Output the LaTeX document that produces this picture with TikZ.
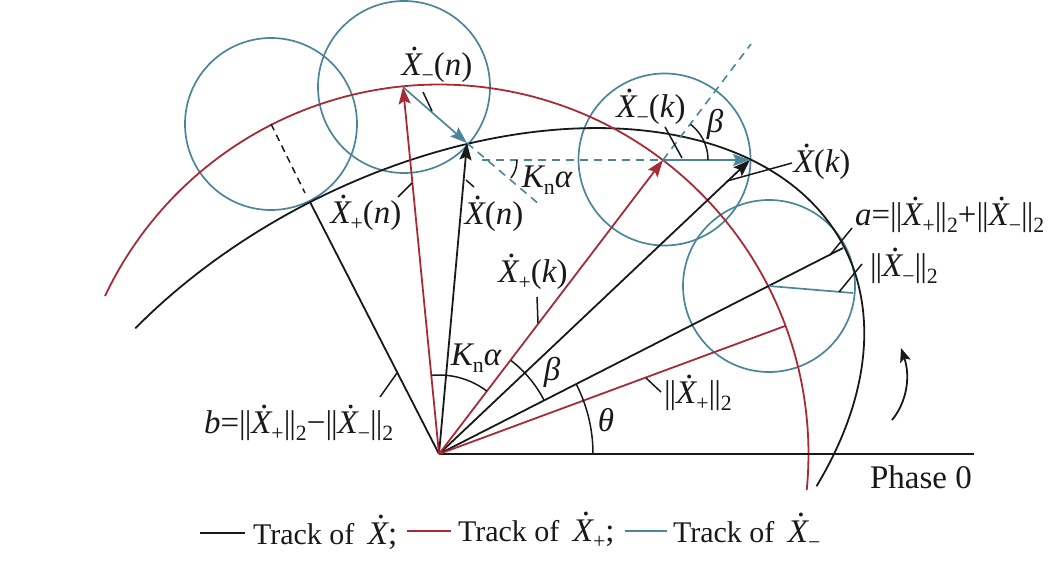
\documentclass[tikz,border=0pt]{standalone}
\usepackage{fontspec}
\usepackage{graphicx}
\setmainfont{Liberation Serif}
\usetikzlibrary{arrows.meta}
\definecolor{myred}{HTML}{A62B36}
\definecolor{myteal}{HTML}{4A8599}
\newcommand\Xd{\makebox[0pt][l]{\hspace{0.27em}\raisebox{0.76em}{.}}{\itshape X}}
\newcommand\lsub[1]{\raisebox{-0.22em}{\scalebox{0.66}{#1}}}
\newcommand\nrm{|\kern-0.03em|}
\newcommand\iv[1]{{\itshape #1}}
\newcommand\bigf{\fontsize{33}{35}\selectfont}
\tikzset{
  blk/.style={draw=black!90,line width=1.8pt},
  redl/.style={draw=myred,line width=1.8pt},
  tealine/.style={draw=myteal,line width=1.7pt},
  tealdash/.style={draw=myteal,line width=1.6pt,dash pattern=on 8pt off 6pt},
  thin leader/.style={draw=black!90,line width=1.5pt},
  headb/.style={-{Stealth[length=17pt,width=12pt,inset=3pt,fill=black!90]}},
  headr/.style={-{Stealth[length=17pt,width=12pt,inset=3pt,fill=myred]}},
  headt/.style={-{Stealth[length=17pt,width=12pt,inset=3pt,fill=myteal]}},
  lab/.style={inner sep=0pt,outer sep=0pt,font=\bigf,text=black!90},
  leg/.style={inner sep=0pt,outer sep=0pt,font=\fontsize{30}{32}\selectfont,text=black!90},
}
\begin{document}
\begin{tikzpicture}[x=1pt,y=-1pt]
\useasboundingbox (0,0) rectangle (1049,561);
% named points
\coordinate (O) at (439,454);
\coordinate (C1) at (271,124);
\coordinate (C2) at (403,87);
\coordinate (C3) at (663,160);
\coordinate (C4) at (769,286);
\coordinate (Pn) at (467,143);
\coordinate (Pk) at (750,160);
\coordinate (Ae) at (843,248);
\coordinate (Be) at (310,202);
\coordinate (Re) at (785,326);
\coordinate (Te) at (853,293);
\coordinate (Axe) at (974,454);
% circles
\node[circle,tealine,minimum size=172pt,inner sep=0pt] (c1) at (C1) {};
\node[circle,tealine,minimum size=172pt,inner sep=0pt] (c2) at (404,87) {};
\node[circle,tealine,minimum size=172pt,inner sep=0pt] (c3) at (664.5,159.5) {};
\node[circle,tealine,minimum size=172pt,inner sep=0pt] (c4) at (C4) {};
% tracks
\draw[blk] plot[domain=-45:118,samples=120] ({439+455*cos(\x)*0.891-283*sin(\x)*0.454},{454-455*cos(\x)*0.454-283*sin(\x)*0.891});
\draw[redl] plot[domain=-5.6:154.7,samples=120] ({439+369.5*cos(\x)},{454-369.5*sin(\x)});
% axis and black rays
\draw[blk] (O) -- (Axe);
\draw[blk] (O) -- (Be);
\draw[thin leader,dash pattern=on 7pt off 5pt] (C1) -- (305,193);
\draw[blk] (O) -- (Ae);
\draw[tealine] (C4) -- (Te);
\draw[blk,headb] (O) -- (Pn);
\draw[blk,headb] (O) -- (Pk);
% red rays
\draw[redl] (O) -- (Re);
\draw[redl,headr] (O) -- (C2);
\draw[redl,headr] (O) -- (C3);
% teal arrows and dashes
\draw[tealine,headt] (C2) -- (Pn);
\draw[tealine,headt] (C3) -- (Pk);
\coordinate (D1) at (540,205);
\coordinate (D2) at (482,160);
\coordinate (D3) at (751,44);
\draw[tealdash] (Pn) -- (D1);
\draw[tealdash] (D2) -- (C3);
\draw[tealdash] (C3) -- (D3);
% angle arcs
\draw[thin leader] plot[domain=52.8:95.6,samples=30] ({439+79*cos(\x)},{454-79*sin(\x)});
\draw[thin leader] plot[domain=27:52.4,samples=30] ({439+118*cos(\x)},{454-118*sin(\x)});
\draw[thin leader] plot[domain=0:27,samples=30] ({439+154*cos(\x)},{454-154*sin(\x)});
\draw[thin leader] plot[domain=0:52,samples=30] ({663+45*cos(\x)},{160-45*sin(\x)});
\draw[thin leader] (517,160) .. controls (517,167) and (515,173) .. (511,178);
% rotation arrow
\coordinate (R1) at (892,420);
\coordinate (R2) at (901,348);
\draw[thin leader,line width=1.8pt,-{Stealth[length=14pt,width=11pt,inset=3pt,fill=black!90]}] (R1) .. controls (906,403) and (911,378) .. (R2);
% labels
\node[lab] (lXmn) at (437,65) {\Xd\lsub{−}(\iv{n})};
\node[lab] (lXpn) at (366,213) {\Xd\lsub{+}(\iv{n})};
\node[lab] (lXn) at (494,214) {\Xd(\iv{n})};
\node[lab] (lKa) at (547,180) {\iv{K}\lsub{n}\iv{α}};
\node[lab] (lXmk) at (651,107) {\Xd\lsub{−}(\iv{k})};
\node[lab] (lXk) at (822,162) {\Xd(\iv{k})};
\node[lab] (lbt) at (715,124) {\iv{β}};
\node[lab,anchor=west] (la) at (855,215) {\iv{a}=\nrm\Xd\lsub{+}\nrm\lsub{2}+\nrm\Xd\lsub{−}\nrm\lsub{2}};
\node[lab,anchor=west] (lnm) at (870,266) {\nrm\Xd\lsub{−}\nrm\lsub{2}};
\node[lab,anchor=west] (lnp) at (664,393) {\nrm\Xd\lsub{+}\nrm\lsub{2}};
\node[lab] (lXpk) at (533,272) {\Xd\lsub{+}(\iv{k})};
\node[lab] (lKa2) at (476,358) {\iv{K}\lsub{n}\iv{α}};
\node[lab] (lbt2) at (552,372) {\iv{β}};
\node[lab] (lth) at (606,420) {\iv{θ}};
\node[lab,anchor=west] (lb) at (204,423) {\iv{b}=\nrm\Xd\lsub{+}\nrm\lsub{2}−\nrm\Xd\lsub{−}\nrm\lsub{2}};
\node[lab] (lph) at (921,477) {Phase 0};
% leaders
\coordinate (L1a) at (423,92); \coordinate (L1b) at (432,111);
\coordinate (L2a) at (398,197); \coordinate (L2b) at (412,183);
\coordinate (L3a) at (466,180); \coordinate (L3b) at (474,187);
\coordinate (L4a) at (665,127); \coordinate (L4b) at (682,158);
\coordinate (L5a) at (727,181); \coordinate (L5b) at (792,163);
\coordinate (L6a) at (830,255); \coordinate (L6b) at (852,228);
\coordinate (L7a) at (839,292); \coordinate (L7b) at (862,264);
\coordinate (L8a) at (646,378); \coordinate (L8b) at (661,392);
\coordinate (L9a) at (538,323); \coordinate (L9b) at (537,297);
\coordinate (L10a) at (397,373); \coordinate (L10b) at (380,397);
\draw[thin leader] (L1a) -- (L1b);
\draw[thin leader] (L2a) -- (L2b);
\draw[thin leader] (L3a) -- (L3b);
\draw[thin leader] (L4a) -- (L4b);
\draw[thin leader] (L5a) -- (L5b);
\draw[thin leader] (L6a) -- (L6b);
\draw[thin leader] (L7a) -- (L7b);
\draw[thin leader] (L8a) -- (L8b);
\draw[thin leader] (L9a) -- (L9b);
\draw[thin leader] (L10a) -- (L10b);
% legend
\coordinate (K1a) at (200,533); \coordinate (K1b) at (245,533);
\coordinate (K2a) at (407,531); \coordinate (K2b) at (451,531);
\coordinate (K3a) at (625,531); \coordinate (K3b) at (667,531);
\draw[blk] (K1a) -- (K1b);
\draw[redl] (K2a) -- (K2b);
\draw[tealine] (K3a) -- (K3b);
\node[leg,anchor=base west] (t1) at (253,544) {Track of\hspace{0.45em}{\bigf\Xd;}};
\node[leg,anchor=base west] (t2) at (458,541) {Track of\hspace{0.45em}{\bigf\Xd\lsub{+};}};
\node[leg,anchor=base west] (t3) at (673,542) {Track of\hspace{0.45em}{\bigf\Xd\lsub{−}}};
\end{tikzpicture}
\end{document}
